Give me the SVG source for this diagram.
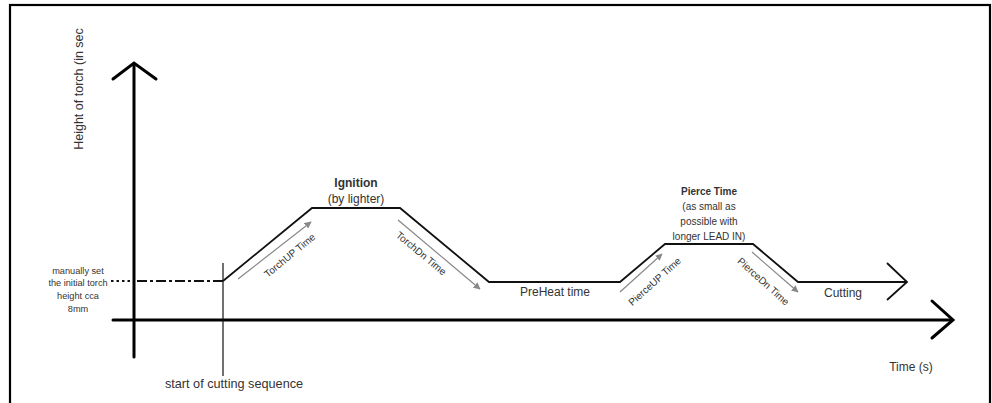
<svg xmlns="http://www.w3.org/2000/svg" width="992" height="403" viewBox="0 0 992 403">
<style>
text{font-family:"Liberation Sans",Arial,sans-serif;fill:#333}
.c{text-anchor:middle}
.b{font-weight:bold}
.axis{stroke:#000;stroke-width:3;fill:none;stroke-linecap:round;stroke-linejoin:miter}
.prof{stroke:#111;stroke-width:1.8;fill:none;stroke-linejoin:miter}
.ga{stroke:#888;stroke-width:1.2;fill:none;marker-end:url(#gh)}
</style>
<defs>
<marker id="gh" viewBox="0 0 10 10" refX="9" refY="5" markerWidth="7" markerHeight="7" markerUnits="userSpaceOnUse" orient="auto">
<path d="M0,0 L10,5 L0,10 z" fill="#888"/>
</marker>
</defs>
<rect x="0" y="0" width="992" height="403" fill="#fff"/>
<rect x="10" y="5" width="980" height="430" fill="none" stroke="#000" stroke-width="2.2"/>

<g id="axes">
<line class="axis" x1="134" y1="64" x2="134" y2="357"/>
<polyline class="axis" points="113,79 134,63 156,79"/>
<line class="axis" x1="113" y1="320" x2="952" y2="320"/>
<polyline class="axis" points="932,301 953,320 932,338" stroke-width="3.5"/>
</g>

<g id="connectors">
<line x1="223" y1="263" x2="223" y2="376" stroke="#111" stroke-width="1.2"/>
<line x1="111" y1="281" x2="131" y2="281" stroke="#111" stroke-width="2" stroke-dasharray="2.5,3"/>
<line x1="137" y1="281" x2="223" y2="281" stroke="#111" stroke-width="2" stroke-dasharray="10,3,3,3"/>
<polyline class="prof" points="223,281 312,208 400,208 489,282 620,282 665,244 753,244 798,282 907,282"/>
<polyline class="prof" points="887,263 907,282 887,300"/>
<line class="ga" x1="238" y1="279" x2="311" y2="222"/>
<line class="ga" x1="398" y1="220" x2="480" y2="289"/>
<line class="ga" x1="620" y1="292" x2="662" y2="254"/>
<line class="ga" x1="752" y1="252" x2="798" y2="292"/>
</g>

<g id="y-label">
<text x="0" y="0" font-size="12.5" class="c" transform="translate(83,89) rotate(-90)">Height of torch (in sec</text>
</g>
<g id="initial-height">
<text x="78" y="274" font-size="9.2" class="c">manually set</text>
<text x="78" y="285.5" font-size="9.2" class="c">the initial torch</text>
<text x="78" y="299" font-size="9.2" class="c">height cca</text>
<text x="78" y="312" font-size="9.2" class="c">8mm</text>
</g>
<g id="start-label">
<text x="234" y="388" font-size="12.7" class="c">start of cutting sequence</text>
</g>
<g id="ignition">
<text x="356" y="187" font-size="12" class="c b">Ignition</text>
<text x="356" y="203" font-size="12" class="c">(by lighter)</text>
</g>
<g id="torchup">
<text x="0" y="0" font-size="10" class="c" transform="translate(292,258) rotate(-39.5)">TorchUP Time</text>
</g>
<g id="torchdn">
<text x="0" y="0" font-size="10" class="c" transform="translate(419,256) rotate(39.7)">TorchDn Time</text>
</g>
<g id="preheat">
<text x="555" y="296" font-size="12" class="c">PreHeat time</text>
</g>
<g id="pierceup">
<text x="0" y="0" font-size="10" class="c" transform="translate(657,284) rotate(-42)">PierceUP Time</text>
</g>
<g id="piercedn">
<text x="0" y="0" font-size="10" class="c" transform="translate(761,284) rotate(42)">PierceDn Time</text>
</g>
<g id="pierce-time">
<text x="709" y="195" font-size="10" class="c b">Pierce Time</text>
<text x="709" y="210" font-size="10" class="c">(as small as</text>
<text x="709" y="225" font-size="10" class="c">possible with</text>
<text x="709" y="240" font-size="10" class="c">longer LEAD IN)</text>
</g>
<g id="cutting">
<text x="843" y="297" font-size="12" class="c">Cutting</text>
</g>
<g id="x-label">
<text x="911" y="371" font-size="12" class="c">Time (s)</text>
</g>
</svg>
